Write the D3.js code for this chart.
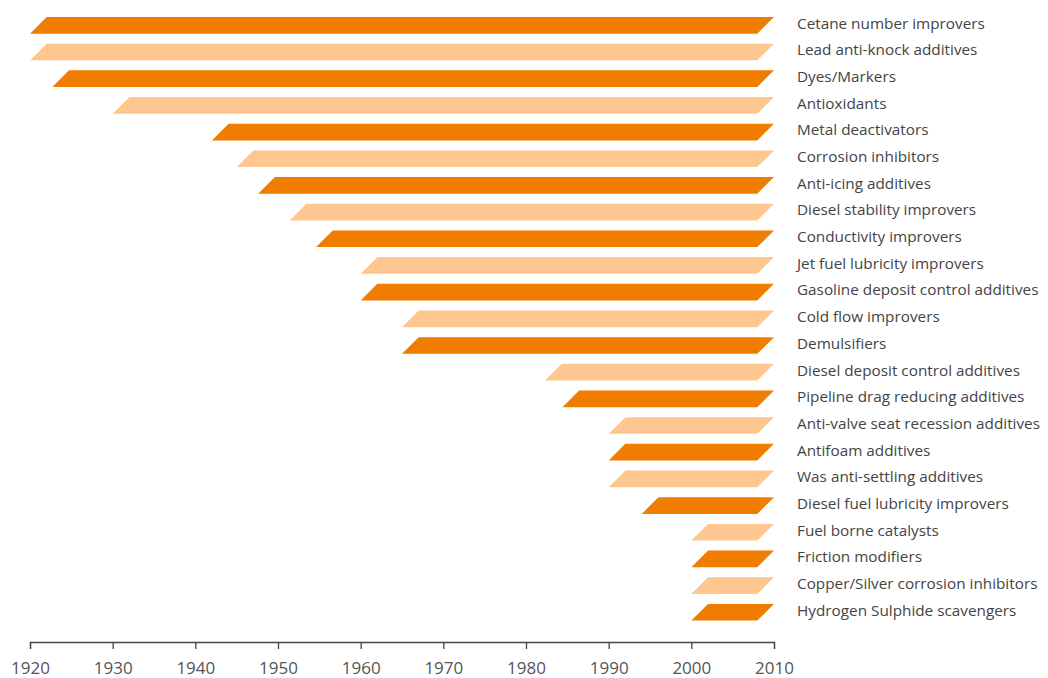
<!DOCTYPE html>
<html>
<head>
<meta charset="utf-8">
<script src="https://d3js.org/d3.v7.min.js"></script>
<style>
  body { margin: 0; background: #fff; }
  svg text { font-family: "Open Sans", "Noto Sans", sans-serif; }
</style>
</head>
<body>
<svg id="chart" width="1048" height="678"></svg>
<script>
// additive categories, top to bottom
var additives = ["Cetane number improvers", "Lead anti-knock additives", "Dyes/Markers", "Antioxidants",
  "Metal deactivators", "Corrosion inhibitors", "Anti-icing additives", "Diesel stability improvers",
  "Conductivity improvers", "Jet fuel lubricity improvers", "Gasoline deposit control additives",
  "Cold flow improvers", "Demulsifiers", "Diesel deposit control additives", "Pipeline drag reducing additives",
  "Anti-valve seat recession additives", "Antifoam additives", "Was anti-settling additives",
  "Diesel fuel lubricity improvers", "Fuel borne catalysts", "Friction modifiers",
  "Copper/Silver corrosion inhibitors", "Hydrogen Sulphide scavengers"]
// year each additive came into use
var startYears = [1920, 1920, 1922.7, 1930, 1942, 1945, 1947.6, 1951.4, 1954.6, 1960, 1960, 1965, 1965,
  1982.3, 1984.4, 1990, 1990, 1990, 1994, 2000, 2000, 2000, 2000]
var endYear = 2010
var yearTicks = [1920, 1930, 1940, 1950, 1960, 1970, 1980, 1990, 2000, 2010]

var dark = "#f07d00", light = "#fec790"

var svg = d3.select("#chart")
var x = d3.scaleLinear().domain([1920, 2010]).range([30, 774])
var y = d3.scaleBand().domain(additives).range([12, 625.6]).paddingInner(0.374).paddingOuter(0.187)
var h = y.bandwidth()

svg.append("g").selectAll("path")
  .data(additives)
  .enter().append("path")
  .attr("fill", function(d, i) { return i % 2 == 0 ? dark : light })
  .attr("d", function(d, i) {
    var top = y(d), bot = y(d) + h
    var x0 = x(startYears[i]), x1 = x(endYear)
    return "M" + x0 + "," + bot + "L" + (x0 + h) + "," + top + "L" + x1 + "," + top + "L" + (x1 - h) + "," + bot + "Z"
  })

svg.append("g").selectAll("text")
  .data(additives)
  .enter().append("text")
  .attr("x", 797)
  .attr("y", function(d) { return y(d) + h / 2 })
  .attr("dy", "0.22em")
  .attr("fill", "#444")
  .style("font-size", "15.3px")
  .text(function(d) { return d })

var axis = svg.append("g").attr("transform", "translate(0,642)")
  .call(d3.axisBottom(x).tickValues(yearTicks).tickFormat(d3.format("d")).tickSize(7).tickPadding(13))
axis.select(".domain").attr("stroke", "#444").attr("stroke-width", 1.3)
axis.selectAll(".tick line").attr("stroke", "#444").attr("stroke-width", 1.3)
axis.selectAll(".tick text").attr("fill", "#555").style("font-size", "17px").style("font-family", "'Open Sans', sans-serif")
</script>
</body>
</html>
